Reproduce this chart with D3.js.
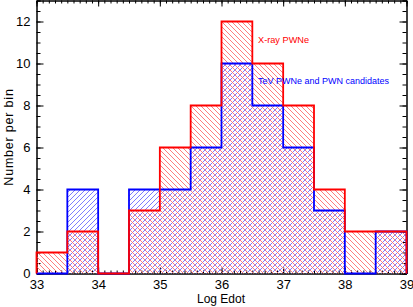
<!DOCTYPE html>
<html>
<head>
  <style>
    body { margin: 0; background: #fff; }
    text { font-family: "Liberation Sans", Arial, sans-serif; }
  </style>
</head>
<body>
  <script src="https://d3js.org/d3.v7.min.js"></script>
  <script>
    // Bin left edges (Log Edot), bin width 0.5
    var binStarts = [33, 33.5, 34, 34.5, 35, 35.5, 36, 36.5, 37, 37.5, 38, 38.5];
    var binWidth = 0.5;
    // Counts per bin
    var xrayCounts = [1, 2, 0, 3, 6, 8, 12, 10, 8, 4, 2, 2];
    var tevCounts  = [0, 4, 0, 4, 4, 6, 10, 8, 6, 3, 0, 2];
    var xTicks = [33, 34, 35, 36, 37, 38, 39];
    var yTicks = [0, 2, 4, 6, 8, 10, 12];

    var W = 413, H = 307;
    var svg = d3.select("body").append("svg")
      .attr("width", W).attr("height", H);

    var x = d3.scaleLinear().domain([33, 39]).range([36.5, 406.5]);
    var y = d3.scaleLinear().domain([0, 13]).range([273.5, 0.5]);

    // hatch patterns (red goes down-right, blue goes up-right)
    var defs = svg.append("defs");
    function hatch(id, color, down) {
      var s = 5;
      var p = defs.append("pattern").attr("id", id)
        .attr("patternUnits", "userSpaceOnUse")
        .attr("width", s).attr("height", s);
      var d = down
        ? "M-1,-1L" + (s + 1) + "," + (s + 1) + "M-1," + (s - 1) + "L1," + (s + 1) + "M" + (s - 1) + ",-1L" + (s + 1) + ",1"
        : "M-1," + (s + 1) + "L" + (s + 1) + ",-1M-1,1L1,-1M" + (s - 1) + "," + (s + 1) + "L" + (s + 1) + "," + (s - 1);
      p.append("path").attr("d", d).attr("stroke", color)
        .attr("stroke-width", 0.9).attr("fill", "none");
    }
    hatch("hRed", "rgb(255,110,110)", true);
    hatch("hBlue", "rgb(110,110,255)", false);

    function steps(counts) {
      var pts = [[binStarts[0], 0]];
      counts.forEach(function (v, i) {
        pts.push([binStarts[i], v]);
        pts.push([binStarts[i] + binWidth, v]);
      });
      pts.push([binStarts[binStarts.length - 1] + binWidth, 0]);
      return pts;
    }

    var area = d3.area()
      .x(function (d) { return x(d[0]); })
      .y0(y(0))
      .y1(function (d) { return y(d[1]); });
    var line = d3.line()
      .x(function (d) { return x(d[0]); })
      .y(function (d) { return y(d[1]); });

    // axes
    var minorX = d3.range(33, 39.001, 0.1);
    var minorY = d3.range(0, 13.001, 0.5);

    function styleAxis(g) {
      g.selectAll("path, line").attr("stroke", "#000").attr("stroke-width", 1);
    }
    function styleText(g) {
      g.selectAll("text").attr("font-size", 13).attr("fill", "#000")
        .attr("font-family", "Liberation Sans, Arial, sans-serif");
    }

    svg.append("g").attr("transform", "translate(0," + y(0) + ")")
      .call(d3.axisBottom(x).tickValues(minorX).tickSize(-3).tickFormat(""))
      .call(styleAxis);
    svg.append("g").attr("transform", "translate(0," + y(0) + ")")
      .call(d3.axisBottom(x).tickValues(xTicks).tickSizeInner(-6).tickSizeOuter(0)
        .tickPadding(6).tickFormat(d3.format("d")))
      .call(styleAxis).call(styleText);
    svg.append("g").attr("transform", "translate(0," + y(13) + ")")
      .call(d3.axisTop(x).tickValues(minorX).tickSize(-3).tickFormat(""))
      .call(styleAxis);
    svg.append("g").attr("transform", "translate(0," + y(13) + ")")
      .call(d3.axisTop(x).tickValues(xTicks).tickSizeInner(-6).tickSizeOuter(0).tickFormat(""))
      .call(styleAxis);

    svg.append("g").attr("transform", "translate(" + x(33) + ",0)")
      .call(d3.axisLeft(y).tickValues(minorY).tickSize(-4).tickFormat(""))
      .call(styleAxis);
    svg.append("g").attr("transform", "translate(" + x(33) + ",0)")
      .call(d3.axisLeft(y).tickValues(yTicks).tickSizeInner(-7).tickSizeOuter(0)
        .tickPadding(6).tickFormat(d3.format("d")))
      .call(styleAxis).call(styleText);
    svg.append("g").attr("transform", "translate(" + x(39) + ",0)")
      .call(d3.axisRight(y).tickValues(minorY).tickSize(-4).tickFormat(""))
      .call(styleAxis);
    svg.append("g").attr("transform", "translate(" + x(39) + ",0)")
      .call(d3.axisRight(y).tickValues(yTicks).tickSizeInner(-7).tickSizeOuter(0).tickFormat(""))
      .call(styleAxis);

    // hatched fills
    svg.append("path").datum(steps(tevCounts))
      .attr("d", area).attr("fill", "url(#hBlue)");
    svg.append("path").datum(steps(xrayCounts))
      .attr("d", area).attr("fill", "url(#hRed)");

    // outlines: blue first, red on top
    svg.append("path").datum(steps(tevCounts))
      .attr("d", line).attr("fill", "none")
      .attr("stroke", "#0000ff").attr("stroke-width", 1.8);
    svg.append("path").datum(steps(xrayCounts))
      .attr("d", line).attr("fill", "none")
      .attr("stroke", "#ff0000").attr("stroke-width", 1.8);

    // labels
    svg.append("text").attr("x", 221).attr("y", 303)
      .attr("text-anchor", "middle").attr("font-size", 12).text("Log Edot");
    svg.append("text")
      .attr("transform", "translate(13,137) rotate(-90)")
      .attr("text-anchor", "middle").attr("font-size", 12.5)
      .attr("letter-spacing", 0.8).text("Number per bin");

    // legend text
    svg.append("text").attr("x", 258).attr("y", 43)
      .attr("font-size", 9.2).attr("fill", "#ff0000").text("X-ray PWNe");
    svg.append("text").attr("x", 258).attr("y", 84)
      .attr("font-size", 9).attr("fill", "#0000ff").text("TeV PWNe and PWN candidates");
  </script>
</body>
</html>
